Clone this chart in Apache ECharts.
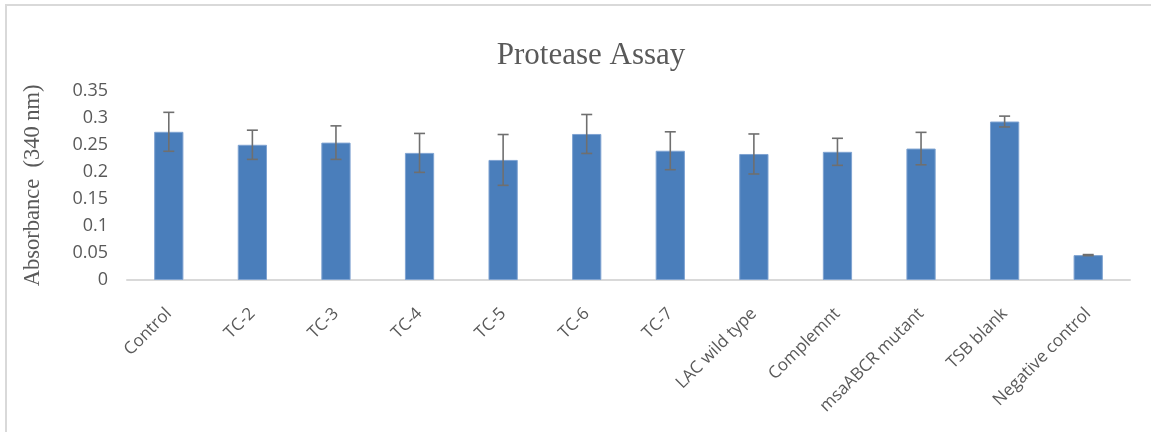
<!DOCTYPE html>
<html>
<head>
<meta charset="utf-8">
<script src="https://cdn.jsdelivr.net/npm/echarts@6/dist/echarts.min.js"></script>
<style>html,body{margin:0;padding:0;background:#fff;}#c{width:1151px;height:432px;}</style>
</head>
<body>
<div id="c"></div>
<script>
const categories = ['Control','TC-2','TC-3','TC-4','TC-5','TC-6','TC-7','LAC wild type','Complemnt','msaABCR mutant','TSB blank','Negative control'];
const absorbance = [0.274, 0.250, 0.254, 0.235, 0.222, 0.270, 0.239, 0.233, 0.237, 0.243, 0.293, 0.046];
const errors = [0.036, 0.027, 0.031, 0.036, 0.047, 0.036, 0.035, 0.037, 0.025, 0.030, 0.010, 0.001];

const errData = absorbance.map((v, i) => [i, v - errors[i], v + errors[i]]);
const chart = echarts.init(document.getElementById('c'));
chart.setOption({
  backgroundColor: '#fff',
  animation: false,
  title: {
    text: 'Protease Assay', left: 586, top: 35, textAlign: 'center',
    textStyle: { fontFamily: 'Liberation Serif', fontSize: 31, fontWeight: 'normal', color: '#595959' }
  },
  graphic: [{
    type: 'rect', shape: { x: 6, y: 5, width: 1300, height: 600 }, silent: true,
    style: { fill: 'none', stroke: '#d9d9d9', lineWidth: 2 }
  }],
  grid: { left: 127, right: 21, top: 90.7, bottom: 152 },
  xAxis: {
    type: 'category', data: categories,
    axisLine: { lineStyle: { color: '#d9d9d9', width: 2 } },
    axisTick: { show: false },
    axisLabel: { rotate: 45, interval: 0, margin: 31, color: '#595959', fontFamily: 'Open Sans', fontSize: 17 }
  },
  yAxis: {
    type: 'value', min: 0, max: 0.35, interval: 0.05,
    name: 'Absorbance  (340 nm)', nameLocation: 'middle', nameRotate: 90, nameGap: 82,
    nameTextStyle: { fontFamily: 'Liberation Serif', fontSize: 22.5, color: '#595959' },
    axisLine: { show: false }, axisTick: { show: false }, splitLine: { show: false },
    axisLabel: { margin: 19, color: '#595959', fontFamily: 'Open Sans', fontSize: 18 }
  },
  series: [{
    type: 'bar', data: absorbance, barWidth: '35%',
    itemStyle: { color: '#4a7ebb', borderColor: '#7fa3d1', borderWidth: 1 }
  }, {
    type: 'custom', data: errData, z: 10,
    renderItem: function (params, api) {
      const x = api.value(0);
      const lo = api.coord([x, api.value(1)]);
      const hi = api.coord([x, api.value(2)]);
      const hw = 5.5;
      const st = { stroke: '#6f6f6f', lineWidth: 1.6, fill: 'none' };
      return { type: 'group', children: [
        { type: 'line', shape: { x1: lo[0], y1: lo[1], x2: hi[0], y2: hi[1] }, style: st },
        { type: 'line', shape: { x1: hi[0] - hw, y1: hi[1], x2: hi[0] + hw, y2: hi[1] }, style: st },
        { type: 'line', shape: { x1: lo[0] - hw, y1: lo[1], x2: lo[0] + hw, y2: lo[1] }, style: st }
      ]};
    }
  }]
});
</script>
</body>
</html>
